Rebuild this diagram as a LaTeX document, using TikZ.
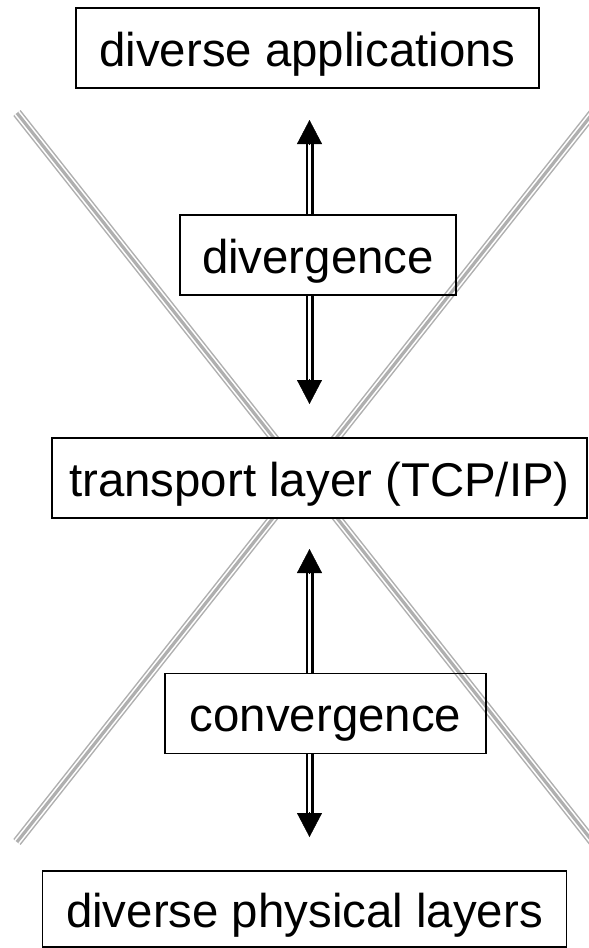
\documentclass[tikz,border=0pt]{standalone}
\usepackage{fontspec}
\setmainfont{Liberation Sans}
\usetikzlibrary{arrows.meta,calc}
\definecolor{xgray}{RGB}{175,175,175}
\begin{document}
\begin{tikzpicture}[x=1bp,y=-1bp,
  lbox/.style={draw=black, line width=1.8bp, inner sep=0pt,
    text height=40bp, text depth=4bp, minimum height=80bp,
    font=\fontsize{47.4bp}{56bp}\selectfont},
  xl/.style={draw=xgray, line width=9.4bp,
    postaction={draw=white, line width=6.4bp},
    postaction={draw=xgray, line width=3.2bp}},
  dshaft/.style={draw=black, line width=2.5bp, double=white, double distance=3bp},
  ahead/.style={draw=black, fill=black, line width=0.4bp,
    -{Triangle[width=25bp,length=24bp]}}
]
\useasboundingbox (0,0) rectangle (589,948);

% crossing grey lines
\coordinate (xa1) at (17,113);
\coordinate (xa2) at (593,842);
\coordinate (xb1) at (593,113);
\coordinate (xb2) at (17,842);
\draw[xl] (xa1) -- (xa2);
\draw[xl] (xb1) -- (xb2);

% boxes
\node[lbox, minimum width=463bp] (app) at (307.5,48) {diverse applications};
\node[lbox, minimum width=276bp] (div) at (318,255) {divergence};
\node[lbox, fill=white, minimum width=535bp] (tcp) at (319.5,478) {transport layer (TCP/IP)};
\node[lbox, minimum width=321bp] (conv) at (325.5,713.5) {convergence};
\node[lbox, minimum width=524bp, minimum height=76bp] (phy) at (304.5,909) {diverse physical layers};

% arrow tips
\coordinate (tA) at (309.5,120);
\coordinate (tB) at (309.5,404);
\coordinate (tC) at (309.5,549);
\coordinate (tD) at (309.5,837);

% shafts
\draw[dshaft] (tA |- div.north) -- ($(tA)+(0,22)$);
\draw[dshaft] (tB |- div.south) -- ($(tB)+(0,-22)$);
\draw[dshaft] (tC |- conv.north) -- ($(tC)+(0,22)$);
\draw[dshaft] (tD |- conv.south) -- ($(tD)+(0,-22)$);

% heads
\draw[ahead] ($(tA)+(0,25)$) -- (tA);
\draw[ahead] ($(tB)+(0,-25)$) -- (tB);
\draw[ahead] ($(tC)+(0,25)$) -- (tC);
\draw[ahead] ($(tD)+(0,-25)$) -- (tD);
\end{tikzpicture}
\end{document}
